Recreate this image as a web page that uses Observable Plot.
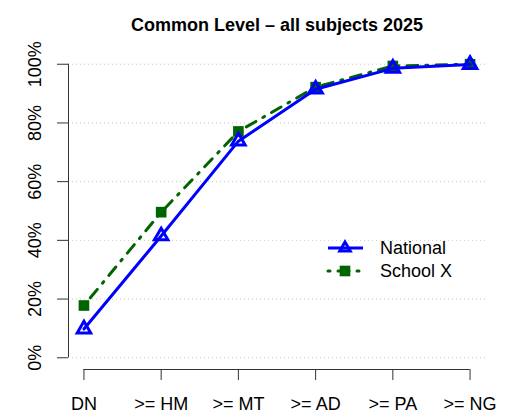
<!DOCTYPE html>
<html>
<head>
<meta charset="utf-8">
<script src="https://cdn.jsdelivr.net/npm/d3@7"></script>
<script src="https://cdn.jsdelivr.net/npm/@observablehq/plot@0.6"></script>
<style>
  html, body { margin: 0; padding: 0; background: #fff; }
  #chart { position: relative; width: 511px; height: 418px; }
  svg { font-family: "Liberation Sans", Arial, Helvetica, sans-serif; }
</style>
</head>
<body>
<div id="chart"></div>
<script>
const categories = ["DN", ">= HM", ">= MT", ">= AD", ">= PA", ">= NG"];
const national = [9.8, 41.5, 73.8, 91.5, 98.6, 99.9];
const schoolX = [17.8, 49.6, 77.1, 92.2, 99.4, 100];
const yTicks = [0, 20, 40, 60, 80, 100];
const title = "Common Level \u2013 all subjects 2025";
const seriesNames = ["National", "School X"];

const natData = categories.map((c, i) => ({i: i + 1, v: national[i]}));
const schData = categories.map((c, i) => ({i: i + 1, v: schoolX[i]}));
const idx = categories.map((c, i) => i + 1);

const blue = "#0000ff";
const green = "#006400";
const dash = "2,8,11,8";

const plot = Plot.plot({
  width: 511,
  height: 418,
  marginLeft: 68,
  marginRight: 26,
  marginTop: 52,
  marginBottom: 49,
  style: {fontFamily: '"Liberation Sans", Arial, sans-serif', background: "#fff"},
  x: {domain: [0.8, 6.2], axis: null},
  y: {domain: [-4, 104], axis: null},
  marks: [
    Plot.gridY(yTicks, {stroke: "#c8c8c8", strokeOpacity: 1, strokeDasharray: "1,3"}),
    Plot.ruleX([0.8], {y1: 0, y2: 100, stroke: "#333"}),
    Plot.ruleY([-4], {x1: 1, x2: 6, stroke: "#333"}),
    Plot.axisY(yTicks, {label: null, tickSize: 11, tickFormat: d => d + "%", tickRotate: -90, fontSize: 18, tickPadding: 17, stroke: "#333", fill: "#000"}),
    Plot.axisX(idx, {label: null, tickSize: 11, tickFormat: d => categories[d - 1], fontSize: 18, tickPadding: 17, stroke: "#333", fill: "#000"}),
    Plot.line(schData, {x: "i", y: "v", stroke: green, strokeWidth: 3, strokeDasharray: dash, strokeLinecap: "round"}),
    Plot.dot(schData, {x: "i", y: "v", symbol: "square", fill: green, r: 6}),
    Plot.line(natData, {x: "i", y: "v", stroke: blue, strokeWidth: 3}),
    Plot.dot(natData, {x: "i", y: "v", symbol: "triangle", stroke: blue, strokeWidth: 3, fill: "none", r: 5}),
    Plot.text([title], {frameAnchor: "top", dy: -34, fontSize: 18, fontWeight: "bold", fill: "#000"})
  ]
});

document.getElementById("chart").appendChild(plot);

// Legend
const svg = d3.select(plot);
const lg = svg.append("g").attr("font-family", '"Liberation Sans", Arial, sans-serif').attr("text-anchor", "start");
const lx = 328, ly = 248, dy = 23;
// National
lg.append("line").attr("x1", lx).attr("x2", lx + 35).attr("y1", ly).attr("y2", ly)
  .attr("stroke", blue).attr("stroke-width", 3);
lg.append("path").attr("d", d3.symbol(d3.symbolTriangle2, Math.PI * 25)())
  .attr("transform", `translate(${lx + 17},${ly})`).attr("fill", "none").attr("stroke", blue).attr("stroke-width", 3);
lg.append("text").attr("x", lx + 52).attr("y", ly).attr("dy", "0.35em").attr("font-size", 18).text(seriesNames[0]);
// School X
lg.append("line").attr("x1", lx).attr("x2", lx + 35).attr("y1", ly + dy).attr("y2", ly + dy)
  .attr("stroke", green).attr("stroke-width", 3).attr("stroke-dasharray", dash).attr("stroke-linecap", "round");
lg.append("path").attr("d", d3.symbol(d3.symbolSquare, Math.PI * 36)())
  .attr("transform", `translate(${lx + 17},${ly + dy})`).attr("fill", green);
lg.append("text").attr("x", lx + 52).attr("y", ly + dy).attr("dy", "0.35em").attr("font-size", 18).text(seriesNames[1]);
</script>
</body>
</html>
